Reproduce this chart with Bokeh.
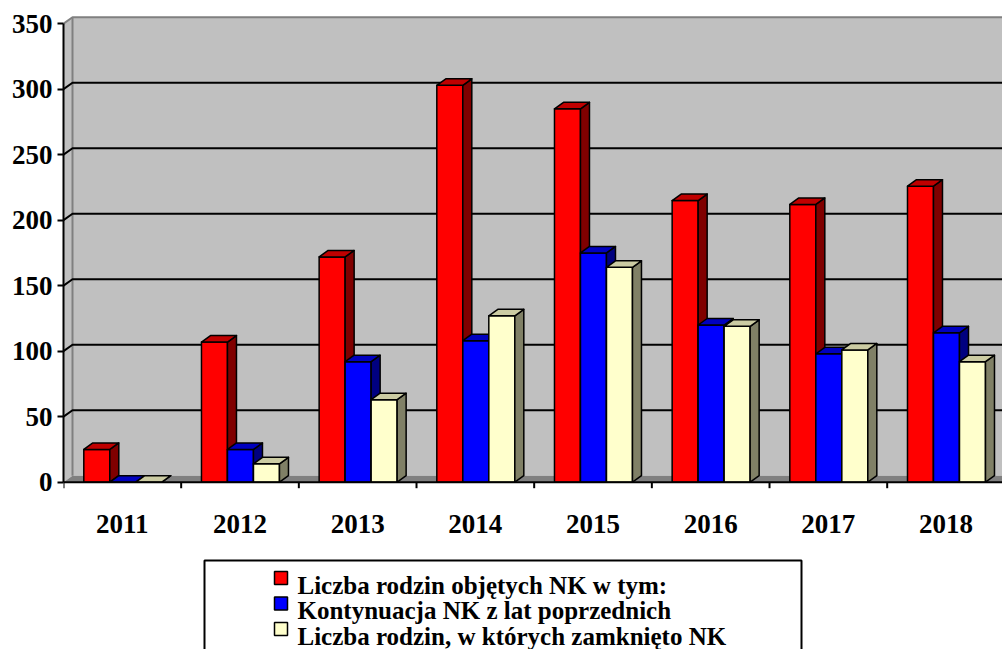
from bokeh.plotting import figure
from bokeh.models import ColumnDataSource, FixedTicker, Range1d
from bokeh.core.properties import value
from bokeh.embed import file_html
from bokeh.resources import INLINE

# ---------------- data ----------------
years = ["2011", "2012", "2013", "2014", "2015", "2016", "2017", "2018"]
series_names = [
    "Liczba rodzin objętych NK w tym:",
    "Kontynuacja NK z lat poprzednich",
    "Liczba rodzin, w których zamknięto NK",
]
families_total = [25, 107, 172, 303, 285, 215, 212, 226]
continued = [0, 25, 92, 108, 175, 120, 98, 114]
closed = [0, 14, 63, 127, 164, 119, 101, 92]
y_ticks = [0, 50, 100, 150, 200, 250, 300, 350]

series_values = [families_total, continued, closed]
front_colors = ["#FF0000", "#0000FF", "#FFFFCC"]
side_colors = ["#800000", "#000080", "#808066"]
top_colors = ["#C00000", "#0000C0", "#CCCCA3"]

# ---------------- geometry ----------------
W, H = 1002, 649
LEFT = 63            # frame left (px)
PX_CAT = 117.67      # px per category
PX_UNIT = 1.31       # px per value unit
ZERO_Y = 481.7       # px of value 0
DEPTH_X, DEPTH_Y = 9.0, 6.5
BAR_OFF, BAR_W = 20.3, 26.0
Y_MAX = 350

def dxc(px):
    return px / PX_CAT

def dvu(px):
    return px / PX_UNIT

def cx(px_x):
    return (px_x - LEFT) / PX_CAT

def vy(px_y):
    return (ZERO_Y - px_y) / PX_UNIT

x_end = (W - LEFT) / PX_CAT
p = figure(width=W, height=H, output_backend="svg", toolbar_location=None,
           x_range=Range1d(0, x_end),
           y_range=Range1d(-(H - ZERO_Y) / PX_UNIT, ZERO_Y / PX_UNIT),
           min_border_left=LEFT, min_border_right=0, min_border_top=0,
           min_border_bottom=0, x_axis_location=None, y_axis_location="left",
           outline_line_color=None, background_fill_color="white",
           border_fill_color="white")
p.grid.visible = False

ax = p.yaxis[0]
ax.ticker = FixedTicker(ticks=y_ticks)
ax.bounds = (0, Y_MAX)
ax.axis_line_color = "black"
ax.axis_line_width = 2
ax.major_tick_line_color = "black"
ax.major_tick_line_width = 2
ax.major_tick_out = 6
ax.major_tick_in = 0
ax.minor_tick_line_color = None
ax.major_label_standoff = 5
ax.major_label_text_font = "Liberation Serif"
ax.major_label_text_font_style = "bold"
ax.major_label_text_font_size = "27px"
ax.major_label_text_color = "black"

ddx, ddy = dxc(DEPTH_X), dvu(DEPTH_Y)

# walls and floor
p.quad(left=ddx, right=x_end + 1, bottom=ddy, top=Y_MAX + ddy,
       fill_color="#C0C0C0", line_color=None)
p.patch([0, 0, ddx, ddx], [0, Y_MAX, Y_MAX + ddy, ddy],
        fill_color="#C0C0C0", line_color=None)
p.patch([0, x_end + 1, x_end + 1 + ddx, ddx], [0, 0, ddy, ddy],
        fill_color="#808080", line_color=None)
p.line([ddx, ddx], [ddy, Y_MAX + ddy], line_color="#808080", line_width=2)

grid_xs, grid_ys = [], []
for t in y_ticks[1:-1]:
    grid_xs.append([0, ddx, x_end + 1])
    grid_ys.append([t, t + ddy, t + ddy])
p.multi_line(grid_xs, grid_ys, line_color="black", line_width=2)
p.line([0, ddx, x_end + 1], [Y_MAX, Y_MAX + ddy, Y_MAX + ddy],
       line_color="#808080", line_width=2)

# bars (3D look)
bw = dxc(BAR_W)
off = dxc(BAR_OFF)
for s, vals in enumerate(series_values):
    xs, ys, cols = [], [], []
    for i, v in enumerate(vals):
        x0 = i + off + s * bw
        x1 = x0 + bw
        xs.append([x0, x1, x1, x0]); ys.append([0, 0, v, v]); cols.append(front_colors[s])
        xs.append([x1, x1 + ddx, x1 + ddx, x1]); ys.append([0, ddy, v + ddy, v]); cols.append(side_colors[s])
        xs.append([x0, x1, x1 + ddx, x0 + ddx]); ys.append([v, v, v + ddy, v + ddy]); cols.append(top_colors[s])
    src = ColumnDataSource(dict(xs=xs, ys=ys, c=cols))
    p.patches("xs", "ys", source=src, fill_color="c", line_color="black",
              line_width=1.5, line_join="round")

# x axis
p.line([0, x_end + 1], [0, 0], line_color="black", line_width=2)
tick_x = [[i, i] for i in range(len(years) + 1)]
tick_y = [[0, -dvu(6)] for _ in range(len(years) + 1)]
p.multi_line(tick_x, tick_y, line_color="black", line_width=2)
p.text(x=[i + 0.5 for i in range(len(years))], y=[vy(523)] * len(years), text=years,
       text_align="center", text_baseline="alphabetic",
       text_font=value("Liberation Serif"), text_font_style="bold",
       text_font_size="27px", text_color="black")

# legend
p.quad(left=cx(204), right=cx(801), top=vy(560), bottom=vy(700),
       fill_color="white", line_color="black", line_width=2)
row_step = 25.5
for k, name in enumerate(series_names):
    top_px = 571 + k * row_step
    p.quad(left=cx(274), right=cx(287), top=vy(top_px), bottom=vy(top_px + 13),
           fill_color=front_colors[k], line_color="black", line_width=1.5)
p.text(x=[cx(297)] * 3, y=[vy(584.5 + k * row_step) for k in range(3)],
       text=series_names, text_align="left", text_baseline="alphabetic",
       text_font=value("Liberation Serif"), text_font_style="bold",
       text_font_size="25px", text_color="black")

open("out.html", "w").write(file_html(p, INLINE))
